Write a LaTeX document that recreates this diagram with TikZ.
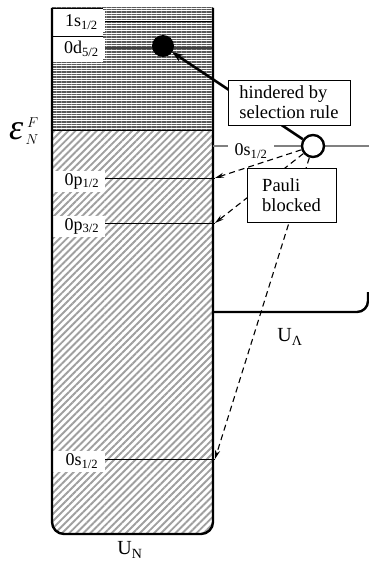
\documentclass[tikz,border=0pt]{standalone}
\usepackage{fontspec}
\setmainfont{Liberation Serif}
\usepackage{amsmath}
\usepackage{graphicx}
\usetikzlibrary{arrows.meta,calc,positioning,patterns.meta}

\begin{document}
\begin{tikzpicture}[x=1pt, y=-1pt, line width=0.8pt,
  lvl/.style={line width=0.8pt},
  lvllabel/.style={fill=white, anchor=west, inner sep=0pt, minimum width=53pt,
    minimum height=21pt, font=\fontsize{18}{18}\selectfont},
  infobox/.style={draw, fill=white, line width=0.9pt, align=left,
    font=\fontsize{18.5}{20}\selectfont},
  dasharrow/.style={dash pattern=on 6pt off 4pt, line width=1.1pt,
    -{Stealth[length=9pt,width=5pt]}}]

  \useasboundingbox (0,0) rectangle (369,567);

  % nucleon well, filled part above and below the Fermi level
  \fill[pattern={Lines[angle=0, distance=2.5pt, line width=1.6pt]}, pattern color=gray!70!black]
    (52,8) rectangle (213,130);
  \fill[pattern={Lines[angle=45, distance=5pt, line width=1.9pt]}, pattern color=gray!75]
    (52,130) [rounded corners=12pt]-- (52,534) -- (213,534) [sharp corners]-- (213,130) -- cycle;
  \draw[line width=0.7pt] (52,130) -- (213,130);

  % levels
  \draw[lvl] (103,21) -- (213,21);
  \draw[lvl, gray!50!black, line width=1.6pt] (103,48) -- (213,48);
  \coordinate (p12) at (215,178);
  \coordinate (p32) at (215,223);
  \coordinate (s12) at (215,459);
  \draw[lvl] (103,178) -- (p12);
  \draw[lvl] (103,223) -- (p32);
  \draw[lvl] (103,459) -- (s12);

  \fill[white] (52,8) rectangle (103,62);
  \draw (52,8) -- (103,8) (52,36) -- (103,36);
  \node[lvllabel] (l1s) at (52,22) {\hspace{5pt}1s\textsubscript{1/2}};
  \node[lvllabel] (l0d) at (52,49) {\hspace{5pt}0d\textsubscript{5/2}};
  \node[lvllabel] (l0p1) at (52,181) {\hspace{6pt}0p\textsubscript{1/2}};
  \node[lvllabel] (l0p3) at (52,226) {\hspace{6pt}0p\textsubscript{3/2}};
  \node[lvllabel] (l0s) at (52,461) {\hspace{6pt}0s\textsubscript{1/2}};

  % well outline
  \draw[line width=2.4pt] (52,8) [rounded corners=12pt]-- (52,534) -- (213,534) [sharp corners]-- (213,8);

  % hyperon well
  \draw[line width=2.4pt, rounded corners=11pt] (213,312) -- (368,312) -- (368,292);

  % hyperon level
  \draw[gray, line width=1.2pt] (213,146) -- (369,146);
  \node[fill=white, inner xsep=7pt, inner ysep=1pt, font=\fontsize{18}{18}\selectfont]
    (l0sL) at (251,151) {0s\textsubscript{1/2}};

  \fill (163,46) circle (11pt) coordinate (dot);
  \node[circle, draw, fill=white, line width=2.4pt, minimum size=22pt, inner sep=0pt] (hole) at (313,146) {};

  \draw[line width=2.6pt, -{Stealth[length=11pt,width=8pt]}] (hole) -- ($(dot)!11pt!(hole)$);
  \draw[dasharrow] (hole) -- (p12);
  \draw[dasharrow] (hole) -- (p32);
  \draw[dasharrow] (hole) -- (s12);

  \node[infobox, minimum width=122pt, minimum height=45pt] (hind) at (289,102.5)
    {hindered by\\selection rule};
  \node[infobox, minimum width=89pt, minimum height=54pt] (pauli) at (291.5,195)
    {Pauli\\blocked};

  \node[font=\fontsize{22}{22}\selectfont, inner sep=0pt] (eps) at (24,131)
    {${\text{\fontsize{36}{36}\selectfont\itshape ε}}_{\,N}^{\;F}$};
  \node[font=\fontsize{20}{20}\selectfont] (un) at (130,550) {U\textsubscript{N}};
  \node[font=\fontsize{20}{20}\selectfont] (ul) at (290,337) {U\textsubscript{Λ}};

\end{tikzpicture}
\end{document}
